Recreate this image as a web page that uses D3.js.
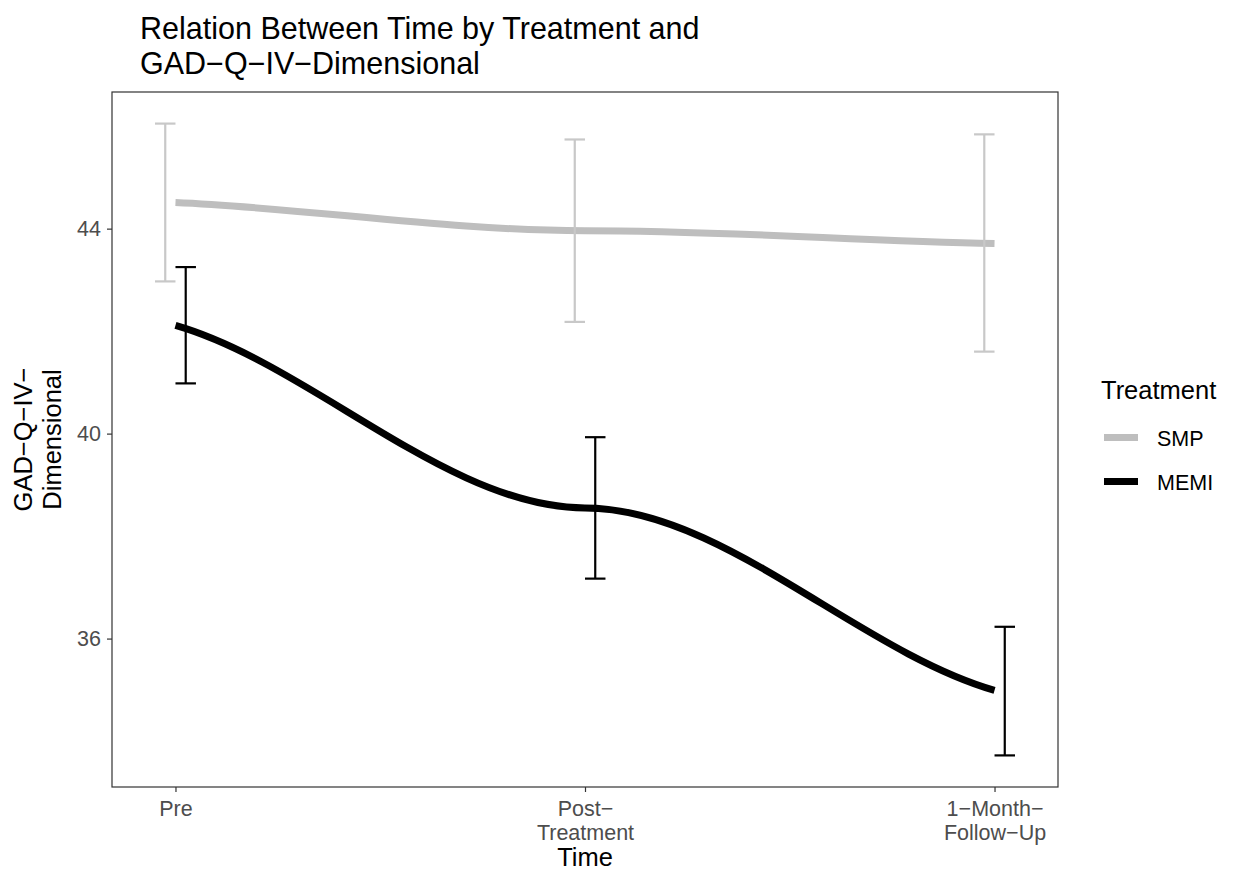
<!DOCTYPE html>
<html>
<head>
<meta charset="utf-8">
<script src="https://cdn.jsdelivr.net/npm/d3@7"></script>
<style>
  html, body { margin: 0; padding: 0; background: #ffffff; }
  svg { display: block; font-family: "Liberation Sans", Arial, Helvetica, sans-serif; }
</style>
</head>
<body>
<svg id="chart" width="1234" height="871"></svg>
<script>
// Time points (x positions 1, 2, 3), tick labels split into lines
const timePoints = [1, 2, 3];
const timeLabels = [["Pre"], ["Post\u2212", "Treatment"], ["1\u2212Month\u2212", "Follow\u2212Up"]];

// Group means and error bar bounds
const smpMean  = [44.51, 43.96, 43.71];
const smpLower = [42.97, 42.18, 41.60];
const smpUpper = [46.05, 45.74, 45.84];

const memiMean  = [42.11, 38.55, 34.99];
const memiLower = [40.98, 37.17, 33.72];
const memiUpper = [43.25, 39.93, 36.23];

const yTicks = [36, 40, 44];
const groups = ["SMP", "MEMI"];

// Layout
const W = 1234, H = 871;
const panel = { left: 112, right: 1058, top: 92, bottom: 787 };
const dodge = 0.025, capHalf = 0.025;
const tickFont = 21.5, axisTitleFont = 25.5, titleFont = 30.5;

const series = [
  { name: "SMP",  mean: smpMean,  lower: smpLower,  upper: smpUpper,  offset: -dodge,
    line: "#bebebe", bar: "#c8c8c8" },
  { name: "MEMI", mean: memiMean, lower: memiLower, upper: memiUpper, offset: dodge,
    line: "#000000", bar: "#000000" }
];

// Scales with 5% expansion around the drawn extents
const xMin = d3.min(timePoints) - dodge - capHalf, xMax = d3.max(timePoints) + dodge + capHalf;
const xPad = (xMax - xMin) * 0.05;
const x = d3.scaleLinear().domain([xMin - xPad, xMax + xPad]).range([panel.left, panel.right]);

const yMin = d3.min(series, s => d3.min(s.lower)), yMax = d3.max(series, s => d3.max(s.upper));
const yPad = (yMax - yMin) * 0.05;
const y = d3.scaleLinear().domain([yMin - yPad, yMax + yPad]).range([panel.bottom, panel.top]);

// Smooth curve through the points: level at interior points, eased slope at the ends
const END_K = 0.65;
function curveLevelInterior(context) {
  let pts;
  return {
    areaStart() {}, areaEnd() {},
    lineStart() { pts = []; },
    point(px, py) { pts.push([+px, +py]); },
    lineEnd() {
      const n = pts.length;
      if (!n) return;
      const slope = (a, b) => (b[1] - a[1]) / (b[0] - a[0]);
      const m = pts.map((p, i) => {
        if (n < 2) return 0;
        if (i === 0) return END_K * slope(pts[0], pts[1]);
        if (i === n - 1) return END_K * slope(pts[n - 2], pts[n - 1]);
        return 0;
      });
      context.moveTo(pts[0][0], pts[0][1]);
      for (let i = 0; i < n - 1; i++) {
        const [x0, y0] = pts[i], [x1, y1] = pts[i + 1];
        const dx = x1 - x0;
        context.bezierCurveTo(x0 + dx / 3, y0 + m[i] * dx / 3,
                              x1 - dx / 3, y1 - m[i + 1] * dx / 3, x1, y1);
      }
    }
  };
}

const svg = d3.select("#chart");
svg.append("rect").attr("width", W).attr("height", H).attr("fill", "#ffffff");

const plot = svg.append("g");

// Mean lines
const line = d3.line()
  .x(d => x(d.t))
  .y(d => y(d.v))
  .curve(curveLevelInterior);

series.forEach(s => {
  const pts = timePoints.map((t, i) => ({ t, v: s.mean[i] }));
  plot.append("path")
    .attr("d", line(pts))
    .attr("fill", "none")
    .attr("stroke", s.line)
    .attr("stroke-width", 7)
    .attr("stroke-linecap", "butt");
});

// Error bars, dodged per group
series.forEach(s => {
  const g = plot.append("g").attr("stroke", s.bar).attr("stroke-width", 2.2).attr("fill", "none");
  timePoints.forEach((t, i) => {
    const cx = t + s.offset;
    g.append("line").attr("x1", x(cx)).attr("x2", x(cx)).attr("y1", y(s.lower[i])).attr("y2", y(s.upper[i]));
    g.append("line").attr("x1", x(cx - capHalf)).attr("x2", x(cx + capHalf)).attr("y1", y(s.upper[i])).attr("y2", y(s.upper[i]));
    g.append("line").attr("x1", x(cx - capHalf)).attr("x2", x(cx + capHalf)).attr("y1", y(s.lower[i])).attr("y2", y(s.lower[i]));
  });
});

// Panel border
svg.append("rect")
  .attr("x", panel.left).attr("y", panel.top)
  .attr("width", panel.right - panel.left).attr("height", panel.bottom - panel.top)
  .attr("fill", "none").attr("stroke", "#333333").attr("stroke-width", 1.2);

// Y axis
const yAxis = svg.append("g")
  .attr("transform", `translate(${panel.left},0)`)
  .call(d3.axisLeft(y).tickValues(yTicks).tickSize(5).tickPadding(6).tickFormat(d3.format("d")));
yAxis.select(".domain").remove();
yAxis.selectAll(".tick line").attr("stroke", "#333333").attr("stroke-width", 1.2);
yAxis.selectAll(".tick text")
  .attr("fill", "#4d4d4d").attr("font-size", tickFont)
  .attr("font-family", "Liberation Sans, Arial, sans-serif");

// X axis
const xAxis = svg.append("g")
  .attr("transform", `translate(0,${panel.bottom})`)
  .call(d3.axisBottom(x).tickValues(timePoints).tickSize(5).tickFormat(""));
xAxis.select(".domain").remove();
xAxis.selectAll(".tick line").attr("stroke", "#333333").attr("stroke-width", 1.2);
xAxis.selectAll(".tick").each(function(d, i) {
  const t = d3.select(this).append("text")
    .attr("fill", "#4d4d4d").attr("font-size", tickFont).attr("text-anchor", "middle")
    .attr("font-family", "Liberation Sans, Arial, sans-serif");
  timeLabels[i].forEach((ln, k) => {
    t.append("tspan").attr("x", 0).attr("y", 29 + k * 24).text(ln);
  });
});

// Axis titles
svg.append("text")
  .attr("x", (panel.left + panel.right) / 2).attr("y", 866)
  .attr("text-anchor", "middle").attr("font-size", axisTitleFont).attr("fill", "#000")
  .text("Time");

const yTitle = svg.append("text")
  .attr("transform", `translate(0,${(panel.top + panel.bottom) / 2}) rotate(-90)`)
  .attr("text-anchor", "middle").attr("font-size", axisTitleFont).attr("fill", "#000");
yTitle.append("tspan").attr("x", 0).attr("y", 32).text("GAD\u2212Q\u2212IV\u2212");
yTitle.append("tspan").attr("x", 0).attr("y", 61).text("Dimensional");

// Title
const title = svg.append("text").attr("font-size", titleFont).attr("fill", "#000");
title.append("tspan").attr("x", panel.left + 28).attr("y", 39).text("Relation Between Time by Treatment and");
title.append("tspan").attr("x", panel.left + 28).attr("y", 74).text("GAD\u2212Q\u2212IV\u2212Dimensional");

// Legend
const legend = svg.append("g");
legend.append("text").attr("x", 1101).attr("y", 399).attr("font-size", axisTitleFont).attr("fill", "#000").text("Treatment");
series.forEach((s, i) => {
  const ly = 437.5 + i * 44;
  legend.append("line")
    .attr("x1", 1104).attr("x2", 1138).attr("y1", ly).attr("y2", ly)
    .attr("stroke", s.line).attr("stroke-width", 7);
  legend.append("text")
    .attr("x", 1157).attr("y", ly + 8).attr("font-size", tickFont).attr("fill", "#000")
    .text(groups[i]);
});
</script>
</body>
</html>
